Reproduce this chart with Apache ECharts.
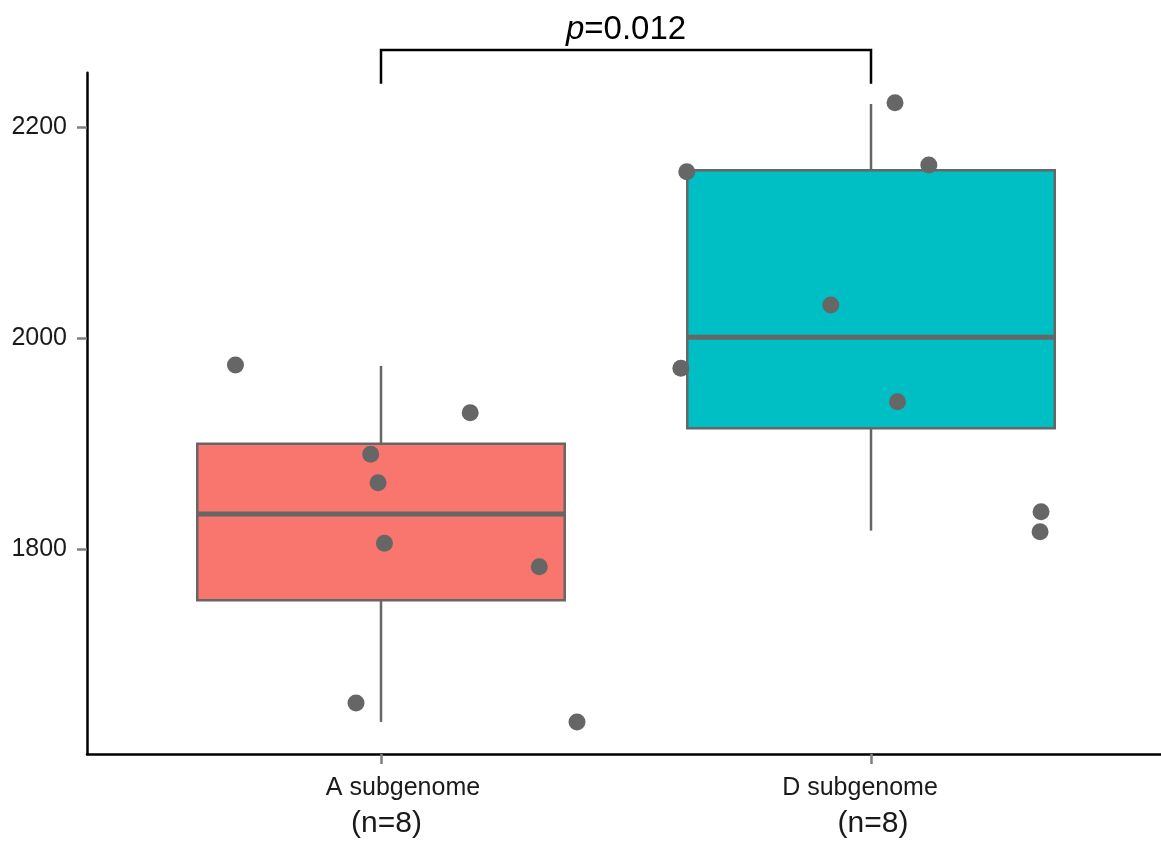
<!DOCTYPE html>
<html>
<head>
<meta charset="utf-8">
<script src="https://cdn.jsdelivr.net/npm/echarts@6/dist/echarts.min.js"></script>
<style>
html,body{margin:0;padding:0;background:#fff;}
#chart{width:1161px;height:843px;}
</style>
</head>
<body>
<div id="chart"></div>
<script>
// ---- data ----
const categories = ['A subgenome', 'D subgenome'];
const sampleCounts = [8, 8];
const boxColors = ['#F8766D', '#00BFC4'];
// box stats: [lower whisker, Q1, median, Q3, upper whisker]
const boxA = [1636, 1751.3, 1833.2, 1899.9, 1973.6];
const boxD = [1817.4, 1914.5, 2000.8, 2159.2, 2222.1];
// raw (jittered) points: values and horizontal jitter offsets (category units)
const pointsA = [1974.5, 1929.3, 1889.8, 1862.9, 1805.4, 1783.2, 1653.9, 1635.9];
const jitterA = [-0.297, 0.182, -0.021, -0.006, 0.007, 0.323, -0.051, 0.400];
const pointsD = [2223.3, 2164.2, 2157.9, 2031.4, 1971.4, 1939.7, 1835.4, 1816.4];
const jitterD = [0.049, 0.118, -0.376, -0.082, -0.388, 0.054, 0.347, 0.345];
const yTicks = [1800, 2000, 2200];
const pLabel = '0.012';
const bracket = [2273.3, 2241.4]; // [top, end of the legs]

// ---- chart ----
const FONT = 'Liberation Sans, Arial, Helvetica, sans-serif';
const boxWidth = 0.75;
const grey = '#666666';

const boxData = [[1].concat(boxA), [2].concat(boxD)];
const scatterData = [];
pointsA.forEach((v, i) => scatterData.push([1 + jitterA[i], v]));
pointsD.forEach((v, i) => scatterData.push([2 + jitterD[i], v]));

const chart = echarts.init(document.getElementById('chart'), null, {renderer: 'canvas'});
chart.setOption({
  animation: false,
  backgroundColor: '#ffffff',
  grid: {left: 87, right: 0, top: 72.7, bottom: 89, containLabel: false},
  xAxis: {
    type: 'value',
    min: 0.4,
    max: 2.5918,
    splitLine: {show: false},
    axisLine: {show: true, onZero: false, lineStyle: {color: '#000', width: 2.5}},
    axisTick: {show: true, customValues: [1, 2], length: 10, lineStyle: {color: '#808080', width: 2.5}},
    axisLabel: {
      show: true,
      customValues: [1, 2],
      margin: 18,
      formatter: function (v) {
        const i = Math.round(v) - 1;
        const k = i === 0 ? 'a' : 'd';
        return '{' + k + '1|' + categories[i] + '}\n{' + k + '2|(n=' + sampleCounts[i] + ')}';
      },
      rich: {
        a1: {fontSize: 25, fontFamily: FONT, color: '#1a1a1a', lineHeight: 32, padding: [0, 0, 0, 44]},
        a2: {fontSize: 30, fontFamily: FONT, color: '#1a1a1a', lineHeight: 39, padding: [0, 0, 0, 11]},
        d1: {fontSize: 25, fontFamily: FONT, color: '#1a1a1a', lineHeight: 32, padding: [0, 22, 0, 0]},
        d2: {fontSize: 30, fontFamily: FONT, color: '#1a1a1a', lineHeight: 39, padding: [0, 0, 0, 4]}
      }
    }
  },
  yAxis: {
    type: 'value',
    min: 1605.5,
    max: 2251.8,
    splitLine: {show: false},
    axisLine: {show: true, onZero: false, lineStyle: {color: '#000', width: 2.5}},
    axisTick: {show: true, customValues: yTicks, length: 10, lineStyle: {color: '#808080', width: 2.5}},
    axisLabel: {show: true, customValues: yTicks, margin: 20, fontSize: 25, fontFamily: FONT, color: '#1a1a1a',
      formatter: function (v) { return String(v); }}
  },
  series: [
    {
      type: 'custom',
      z: 2,
      data: boxData,
      renderItem: function (params, api) {
        const x = api.value(0);
        const lo = api.coord([x, api.value(1)]);
        const q1 = api.coord([x, api.value(2)]);
        const med = api.coord([x, api.value(3)]);
        const q3 = api.coord([x, api.value(4)]);
        const hi = api.coord([x, api.value(5)]);
        const w = api.size([boxWidth, 0])[0];
        const color = boxColors[params.dataIndex];
        return {
          type: 'group',
          children: [
            {type: 'line', shape: {x1: lo[0], y1: lo[1], x2: q1[0], y2: q1[1]}, style: {stroke: grey, lineWidth: 2.5}},
            {type: 'line', shape: {x1: q3[0], y1: q3[1], x2: hi[0], y2: hi[1]}, style: {stroke: grey, lineWidth: 2.5}},
            {type: 'rect', shape: {x: q3[0] - w / 2, y: q3[1], width: w, height: q1[1] - q3[1]},
              style: {fill: color, stroke: grey, lineWidth: 2.5}},
            {type: 'line', shape: {x1: med[0] - w / 2, y1: med[1], x2: med[0] + w / 2, y2: med[1]},
              style: {stroke: grey, lineWidth: 5}}
          ]
        };
      }
    },
    {
      type: 'scatter',
      z: 3,
      symbol: 'circle',
      symbolSize: 17,
      itemStyle: {color: grey, opacity: 1},
      data: scatterData
    },
    {
      type: 'custom',
      z: 4,
      clip: false,
      data: [[1, 2, bracket[0], bracket[1]]],
      renderItem: function (params, api) {
        const l0 = api.coord([api.value(0), api.value(3)]);
        const l1 = api.coord([api.value(0), api.value(2)]);
        const r1 = api.coord([api.value(1), api.value(2)]);
        const r0 = api.coord([api.value(1), api.value(3)]);
        return {
          type: 'group',
          children: [
            {type: 'polyline', shape: {points: [l0, l1, r1, r0]},
              style: {stroke: '#000', lineWidth: 2.5, fill: null}},
            {type: 'text', x: (l1[0] + r1[0]) / 2, y: l1[1] - 4,
              style: {
                text: '{i|p}{n|=' + pLabel + '}',
                align: 'center', verticalAlign: 'bottom',
                rich: {
                  i: {fontSize: 33, fontStyle: 'italic', fontFamily: FONT, fill: '#000'},
                  n: {fontSize: 33, fontFamily: FONT, fill: '#000'}
                }
              }}
          ]
        };
      }
    }
  ]
});
</script>
</body>
</html>
